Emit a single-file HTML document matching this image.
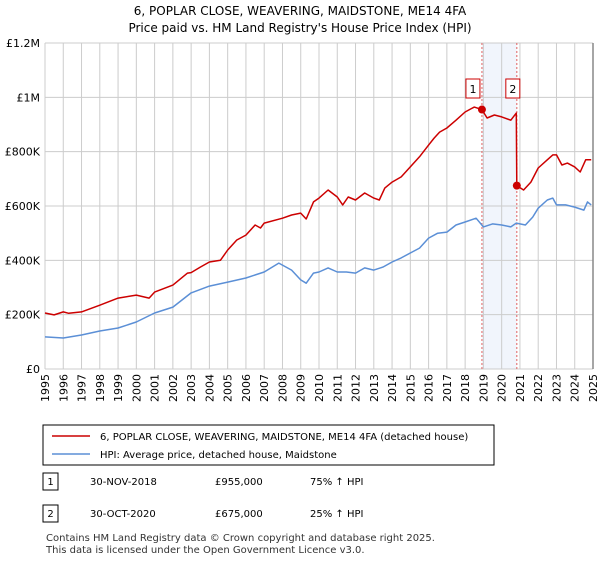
<!DOCTYPE html>
<html><head><meta charset="utf-8"><style>
body{margin:0;background:#fff;font-family:"DejaVu Sans","Liberation Sans",sans-serif;}
svg text{font-family:"DejaVu Sans","Liberation Sans",sans-serif;}
</style></head><body>
<svg id="c" width="600" height="560" xmlns="http://www.w3.org/2000/svg">
<text x="300" y="15" text-anchor="middle" font-size="12">6, POPLAR CLOSE, WEAVERING, MAIDSTONE, ME14 4FA</text>
<text x="300" y="32" text-anchor="middle" font-size="12">Price paid vs. HM Land Registry's House Price Index (HPI)</text>
<g id="plot"></g>
<g>
<rect x="43" y="425" width="451" height="40" fill="#fff" stroke="#000" stroke-width="1"/>
<line x1="52" y1="436" x2="90" y2="436" stroke="#cc0000" stroke-width="1.5"/>
<text x="100" y="440" font-size="10">6, POPLAR CLOSE, WEAVERING, MAIDSTONE, ME14 4FA (detached house)</text>
<line x1="52" y1="454" x2="90" y2="454" stroke="#5b8fd6" stroke-width="1.5"/>
<text x="100" y="458" font-size="10">HPI: Average price, detached house, Maidstone</text>
</g>
<g font-size="10">
<rect x="43" y="473" width="15" height="17" fill="#fff" stroke="#000"/><text x="50.5" y="485" text-anchor="middle">1</text>
<text x="90" y="485">30-NOV-2018</text><text x="215" y="485">£955,000</text><text x="310" y="485">75% ↑ HPI</text>
<rect x="43" y="505" width="15" height="17" fill="#fff" stroke="#000"/><text x="50.5" y="517" text-anchor="middle">2</text>
<text x="90" y="517">30-OCT-2020</text><text x="215" y="517">£675,000</text><text x="310" y="517">25% ↑ HPI</text>
</g>
<text x="46" y="541" font-size="10" fill="#333">Contains HM Land Registry data © Crown copyright and database right 2025.</text>
<text x="46" y="553" font-size="10" fill="#333">This data is licensed under the Open Government Licence v3.0.</text>
</svg>
<script>
const yTicks=[0,200,400,600,800,1000,1200];
const yTickLabels=["£0","£200K","£400K","£600K","£800K","£1M","£1.2M"];
const years=[1995,1996,1997,1998,1999,2000,2001,2002,2003,2004,2005,2006,2007,2008,2009,2010,2011,2012,2013,2014,2015,2016,2017,2018,2019,2020,2021,2022,2023,2024,2025];
const hpiX=[1995,1996,1997,1998,1999,2000,2001,2002,2003,2004,2005,2006,2007,2007.8,2008.5,2009,2009.3,2009.7,2010,2010.5,2011,2011.5,2012,2012.5,2013,2013.5,2014,2014.5,2015,2015.5,2016,2016.5,2017,2017.5,2018,2018.6,2019,2019.5,2020,2020.5,2020.8,2021.3,2021.7,2022,2022.5,2022.8,2023,2023.5,2024,2024.5,2024.7,2024.9];
const hpiY=[118,114,125,140,151,173,206,228,280,305,320,335,357,390,364,328,316,353,357,372,357,357,353,372,364,375,394,409,427,445,482,500,504,530,541,555,523,534,530,523,537,530,559,592,622,629,604,604,596,585,615,604];
const propX=[1995,1995.5,1996,1996.3,1997,1998,1999,2000,2000.7,2001,2002,2002.8,2003,2003.5,2004,2004.6,2005,2005.5,2006,2006.5,2006.8,2007,2008,2008.5,2009,2009.3,2009.7,2010,2010.5,2011,2011.3,2011.6,2012,2012.5,2013,2013.3,2013.6,2014,2014.5,2015,2015.5,2016,2016.3,2016.6,2017,2017.5,2018,2018.3,2018.5,2018.92,2019.2,2019.6,2020,2020.5,2020.8,2020.83,2021.2,2021.6,2022,2022.5,2022.8,2023,2023.3,2023.6,2024,2024.3,2024.6,2024.9];
const propY=[206,199,210,205,210,235,261,272,261,283,309,353,355,375,394,400,438,475,493,530,519,537,555,567,574,552,615,629,659,633,604,633,622,648,629,622,666,688,707,744,781,824,850,872,887,916,946,957,964,955,924,935,928,916,942,675,659,688,740,770,788,788,751,758,744,725,770,770];
const saleX=[2018.92,2020.83];
const saleY=[955,675];
const saleLabels=["1","2"];
const NS="http://www.w3.org/2000/svg";
const X0=45,X1=593,Y0=369,Y1=43;
const xs=v=>X0+(v-1995)/30*(X1-X0);
const ys=v=>Y0-v/1200*(Y0-Y1);
const plot=document.getElementById('plot');
function mk(t,a,p){const e=document.createElementNS(NS,t);for(const k in a)e.setAttribute(k,a[k]);(p||plot).appendChild(e);return e;}
let band=mk('rect',{x:xs(saleX[0]),y:Y1,width:xs(saleX[1])-xs(saleX[0]),height:Y0-Y1,fill:'#eef3fb',opacity:0.8});


years.forEach(y=>{const l=mk('line',{x1:xs(y),x2:xs(y),y1:Y1,y2:Y0,stroke:'#cccccc','stroke-width':1});


const tx=xs(y)+4,ty=Y0+5;
const t=mk('text',{x:tx,y:ty,'text-anchor':'end','font-size':11,transform:'rotate(-90 '+tx+' '+ty+')'});t.textContent=y;

});
yTicks.forEach((v,i)=>{const l=mk('line',{x1:X0,x2:X1,y1:ys(v),y2:ys(v),stroke:'#cccccc','stroke-width':1});


const t=mk('text',{x:X0-5,y:ys(v)+4,'text-anchor':'end','font-size':11});t.textContent=yTickLabels[i];

});
const edge=mk('line',{x1:X1,x2:X1,y1:Y1,y2:Y0,stroke:'#888','stroke-width':1.5});


saleX.forEach(s=>{const l=mk('line',{x1:xs(s),x2:xs(s),y1:Y1,y2:Y0,stroke:'#e06060','stroke-width':1,'stroke-dasharray':'2,2'});

});
function path(X,Y,col,name){const d=X.map((x,i)=>(i?'L':'M')+xs(x).toFixed(1)+','+ys(Y[i]).toFixed(1)).join('');
const p=mk('path',{d:d,fill:'none',stroke:col,'stroke-width':1.5,'stroke-linejoin':'round'});

}
path(hpiX,hpiY,'#5b8fd6','hpi-line');
path(propX,propY,'#cc0000','property-price-line');
saleX.forEach((s,i)=>{const c=mk('circle',{cx:xs(s),cy:ys(saleY[i]),r:4,fill:'#cc0000'});


const bx=xs(s)-(i==0?9:4);
const r=mk('rect',{x:bx-7,y:79,width:14,height:19,fill:'#fff',stroke:'#cc0000'});


const t=mk('text',{x:bx,y:93,'text-anchor':'middle','font-size':11});t.textContent=saleLabels[i];

});
</script>
</body></html>
